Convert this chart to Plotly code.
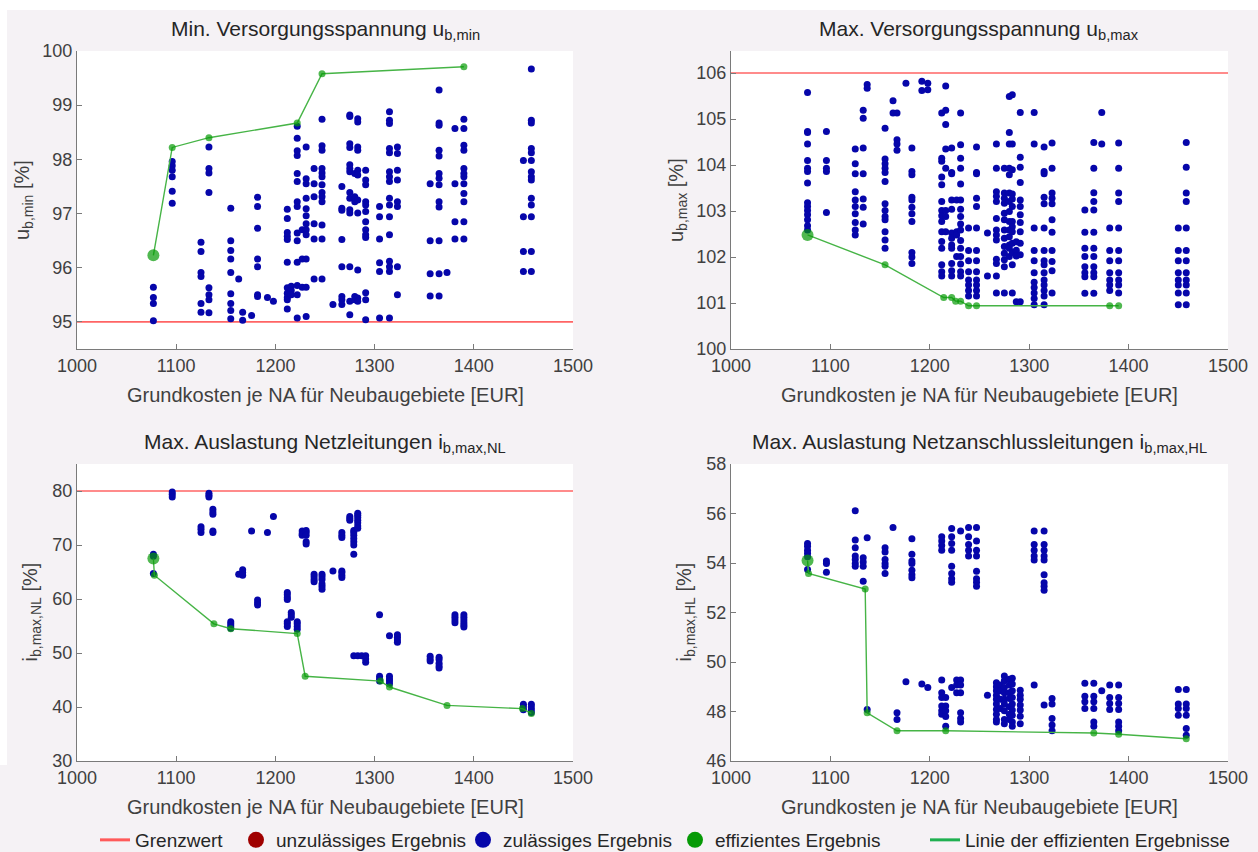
import plotly.graph_objects as go

W, H = 1258, 852
FONT = "Liberation Sans, Arial, sans-serif"

# ---------------- data ----------------
x_ticks = [1000, 1100, 1200, 1300, 1400, 1500]

# Panel 1: Min. Versorgungsspannung u_b,min
umin_x = [1077, 1096, 1125, 1133, 1155, 1163, 1167, 1176, 1182, 1192, 1198, 1212, 1216, 1222, 1227,
          1231, 1239, 1247, 1258, 1267, 1275, 1280, 1283, 1291, 1305, 1315, 1323, 1356, 1365, 1373,
          1381, 1390, 1450, 1458]
umin_y = [
    [95.64, 95.45, 95.34, 95.02],
    [97.96, 97.88, 97.80, 97.68, 97.41, 97.19],
    [96.47, 96.30, 95.91, 95.84, 95.34, 95.18],
    [98.23, 97.83, 97.75, 97.39, 95.63, 95.50, 95.41, 95.17],
    [97.10, 96.50, 96.32, 96.16, 95.91, 95.52, 95.34, 95.21, 95.06],
    [95.79],
    [95.18, 95.03],
    [95.12],
    [97.30, 97.13, 96.73, 96.16, 96.02, 95.50, 95.47],
    [95.45],
    [95.38],
    [97.08, 96.91, 96.65, 96.58, 96.52, 96.10, 95.63, 95.53, 95.45, 95.41, 95.24],
    [95.66, 95.58, 95.50],
    [98.61, 98.39, 98.16, 98.07, 97.74, 97.59, 97.22, 97.13, 96.64, 96.50, 96.10, 95.67, 95.50, 95.07],
    [96.70, 96.16, 95.64],
    [98.23, 97.64, 97.55, 97.28, 97.09, 96.96, 96.81, 96.70, 96.61, 96.16, 95.64, 95.10],
    [97.83, 97.55, 97.31, 96.81, 96.53, 95.79],
    [98.74, 98.25, 98.17, 97.83, 97.75, 97.68, 97.53, 97.39, 97.31, 97.22, 96.79, 96.53, 95.79],
    [95.32],
    [97.50, 97.10, 97.06, 96.52, 96.02, 95.47, 95.41, 95.32],
    [98.82, 98.79, 98.29, 98.22, 97.90, 97.83, 97.77, 97.39, 97.28, 97.07, 97.01, 96.02, 95.38, 95.13],
    [97.74, 97.31, 97.22, 95.47, 95.41],
    [98.75, 98.69, 98.23, 98.17, 97.80, 97.71, 97.25, 97.01, 95.96, 95.44, 95.38],
    [97.80, 97.62, 97.53, 97.22, 97.16, 97.04, 96.85, 96.70, 96.61, 96.56, 95.54, 95.41, 95.04],
    [97.13, 96.94, 96.53, 96.09, 95.93, 95.07],
    [98.88, 98.72, 98.66, 98.20, 98.12, 97.77, 97.68, 97.59, 97.28, 97.16, 96.94, 96.61, 96.12, 96.02, 95.93, 95.07],
    [98.23, 98.11, 97.80, 97.62, 97.22, 97.13, 96.02, 95.50],
    [97.55, 96.50, 95.89, 95.48],
    [99.28, 98.67, 98.63, 98.17, 98.06, 97.74, 97.65, 97.53, 97.22, 97.12, 96.50, 95.89, 95.48],
    [95.91],
    [98.57, 97.55, 96.85, 96.53],
    [98.74, 98.57, 98.26, 98.17, 97.83, 97.74, 97.68, 97.55, 97.37, 97.22, 96.85, 96.53],
    [97.98, 96.94, 96.30, 95.93],
    [99.67, 98.72, 98.67, 98.20, 98.12, 97.98, 97.77, 97.68, 97.62, 97.28, 97.16, 96.94, 96.30, 95.93],
]
umin_eff_x = [1077, 1096, 1133, 1222, 1247, 1390]
umin_eff_y = [96.23, 98.22, 98.40, 98.67, 99.58, 99.71]
umin_limit = 95
umin_yticks = [95, 96, 97, 98, 99, 100]

# Panel 2: Max. Versorgungsspannung u_b,max
umax_x = [1077, 1096, 1125, 1133, 1137, 1155, 1163, 1167, 1176, 1182, 1192, 1198, 1212, 1216, 1222,
          1227, 1231, 1239, 1247, 1258, 1267, 1275, 1280, 1283, 1287, 1291, 1305, 1315, 1323, 1356,
          1365, 1373, 1381, 1390, 1450, 1458]
umax_y = [
    [105.58, 104.73, 104.71, 104.46, 104.10, 103.93, 103.86, 103.61, 103.18, 103.10, 103.01, 102.92, 102.81, 102.68, 102.59],
    [104.73, 104.10, 103.93, 103.86, 102.97],
    [104.35, 104.03, 103.81, 103.42, 103.24, 103.10, 102.94, 102.75, 102.59, 102.48],
    [105.19, 105.02, 104.37, 103.81, 103.26, 103.08, 102.72],
    [105.75, 105.67],
    [104.80, 104.13, 104.03, 103.93, 103.84, 103.64, 103.16, 103.01, 102.88, 102.81, 102.55, 102.37, 102.19],
    [105.40, 105.13],
    [105.13, 104.55, 104.46, 104.32],
    [105.78],
    [104.37, 103.86, 103.79, 103.30, 103.24, 103.08, 102.94, 102.77, 102.10, 102.00, 101.86],
    [105.82, 105.62],
    [105.78, 105.64],
    [105.13, 104.15, 104.08, 103.74, 103.57, 103.21, 103.01, 102.90, 102.77, 102.55, 102.34, 102.19, 101.83, 101.68, 101.59],
    [105.72, 105.19, 104.88, 104.35, 103.93, 103.01, 102.88, 102.55],
    [104.37, 103.84, 103.81, 103.24, 103.04, 102.52, 102.41, 102.26, 102.19, 101.86, 101.70, 101.59],
    [103.24, 102.55, 102.48, 102.01],
    [105.13, 104.44, 104.15, 103.93, 103.59, 103.24, 103.04, 102.88, 102.72, 102.59, 102.36, 102.19, 102.01, 101.85, 101.68, 101.59],
    [102.63, 102.14, 101.92, 101.68, 101.50, 101.39, 101.27, 101.15],
    [104.39, 103.84, 103.81, 103.28, 103.10, 102.63, 102.14, 101.92, 101.68, 101.50, 101.39, 101.27, 101.15],
    [102.52, 101.59],
    [104.46, 103.93, 103.42, 103.32, 103.21, 102.84, 102.59, 102.48, 102.37, 101.95, 101.86, 101.59, 101.22],
    [103.93, 103.39, 103.28, 103.17, 102.95, 102.81, 102.59, 102.41, 102.23, 102.08, 101.94, 101.79, 101.22],
    [105.49, 104.71, 104.46, 103.93, 103.79, 103.39, 103.21, 102.99, 102.77, 102.59, 102.44, 102.26, 102.19, 102.01],
    [105.53, 104.46, 103.90, 103.37, 103.26, 103.10, 102.77, 102.66, 102.55, 102.30, 102.10, 101.83, 101.22],
    [102.33, 102.15, 102.02, 101.03],
    [105.14, 104.17, 103.95, 103.62, 103.24, 103.10, 102.92, 102.75, 102.55, 102.30, 102.05, 101.03],
    [105.14, 104.46, 102.63, 102.14, 101.92, 101.66, 101.45, 101.34, 101.22, 101.10, 100.96],
    [104.39, 103.86, 103.81, 103.30, 103.16, 102.63, 102.14, 101.92, 101.83, 101.66, 101.50, 101.39, 101.27, 101.15, 100.96],
    [104.48, 103.93, 103.39, 103.28, 103.16, 102.81, 102.54, 102.14, 101.90, 101.70, 101.22],
    [103.02, 102.54, 102.19, 102.01, 101.79, 101.66, 101.57, 101.21],
    [104.49, 103.93, 103.40, 103.21, 103.02, 102.54, 102.19, 102.01, 101.79, 101.66, 101.57, 101.21],
    [105.14, 104.46],
    [102.63, 102.14, 101.92, 101.66, 101.50, 101.39, 101.27],
    [104.48, 103.93, 103.39, 103.21, 102.63, 102.14, 101.92, 101.66, 101.50, 101.39, 101.22],
    [102.63, 102.14, 101.92, 101.66, 101.50, 101.39, 101.22, 100.96],
    [104.49, 103.95, 103.39, 103.21, 102.63, 102.14, 101.92, 101.66, 101.50, 101.39, 101.22, 100.96],
]
umax_eff_x = [1077, 1155, 1214, 1222, 1226, 1231, 1239, 1247, 1381, 1390]
umax_eff_y = [102.48, 101.83, 101.12, 101.12, 101.04, 101.04, 100.94, 100.94, 100.94, 100.94]
umax_limit = 106
umax_yticks = [100, 101, 102, 103, 104, 105, 106]

# Panel 3: Max. Auslastung Netzleitungen i_b,max,NL
inl_x = [1077, 1096, 1125, 1133, 1137, 1155, 1163, 1167, 1176, 1182, 1192, 1198, 1212, 1216, 1222,
         1227, 1231, 1239, 1247, 1258, 1267, 1275, 1279, 1283, 1287, 1291, 1305, 1315, 1323, 1356,
         1365, 1381, 1390, 1450, 1458]
inl_y = [
    [68.3, 67.9, 64.7],
    [79.8, 79.4, 78.9],
    [73.4, 72.9, 72.3],
    [79.6, 79.2, 78.9],
    [76.6, 76.1, 75.7, 72.6, 72.3],
    [55.8, 55.4, 55.0, 54.6],
    [64.6],
    [65.4, 64.9, 64.4],
    [72.6],
    [59.8, 59.3, 58.9],
    [72.3],
    [75.3],
    [61.2, 60.8, 60.3, 59.9, 55.8, 55.4, 54.9],
    [57.5, 57.1, 56.6],
    [55.8, 55.4, 54.9, 54.4],
    [72.6, 72.1, 71.8],
    [72.7, 72.3, 71.8, 70.6, 70.2],
    [64.6, 64.1, 63.6, 63.2],
    [64.6, 64.1, 63.6, 62.8, 62.3, 61.8],
    [65.2],
    [72.3, 71.8, 71.4, 65.2, 64.9, 64.4, 64.0],
    [75.3, 74.9, 74.6],
    [72.7, 72.3, 71.8, 71.2, 70.6, 70.0, 68.3, 49.5],
    [75.9, 75.5, 75.1, 74.6, 74.1, 73.5, 73.1, 49.5],
    [49.5],
    [49.5, 48.9, 48.3],
    [57.1, 45.7, 45.2, 44.8],
    [53.2, 45.7, 45.2, 44.8, 44.3],
    [53.4, 52.9, 52.4, 52.0],
    [49.4, 48.9, 48.5],
    [49.2, 48.8, 48.1, 47.6, 47.2],
    [57.1, 56.6, 56.1, 55.6],
    [57.1, 56.6, 56.1, 55.6, 55.2, 54.8],
    [40.5, 40.0, 39.5],
    [40.5, 40.0, 39.5, 39.0],
]
inl_eff_x = [1077, 1078, 1138, 1155, 1222, 1230, 1306, 1315, 1373, 1449, 1458]
inl_eff_y = [67.5, 64.4, 55.4, 54.5, 53.6, 45.7, 44.8, 43.7, 40.3, 39.7, 38.8]
inl_limit = 80
inl_yticks = [30, 40, 50, 60, 70, 80]

# Panel 4: Max. Auslastung Netzanschlussleitungen i_b,max,HL
ihl_x = [1077, 1096, 1125, 1133, 1137, 1155, 1163, 1167, 1176, 1182, 1192, 1198, 1212, 1216, 1222,
         1227, 1231, 1239, 1247, 1258, 1267, 1271, 1275, 1280, 1283, 1291, 1305, 1315, 1323, 1356,
         1365, 1373, 1381, 1390, 1450, 1458]
ihl_y = [
    [54.79, 54.68, 54.52, 54.39, 54.25, 53.74],
    [54.08, 53.98, 53.63],
    [56.11, 54.93, 54.62, 54.28, 54.14, 53.98, 53.87],
    [54.21, 54.04, 53.87, 53.26],
    [55.02, 48.08],
    [54.62, 54.44, 54.14, 53.98, 53.87, 53.58],
    [55.43],
    [47.95, 47.68],
    [49.20],
    [54.98, 54.35, 54.08, 53.98, 53.71, 53.53, 53.40],
    [49.11],
    [48.97],
    [55.06, 54.89, 54.71, 54.52, 49.27, 48.76, 48.57, 48.22, 48.03, 47.89],
    [48.57, 48.22, 48.03, 47.80, 47.40],
    [55.39, 55.06, 54.79, 54.52, 53.87, 53.58, 53.36, 53.22, 48.97],
    [49.27, 49.07, 48.76],
    [55.29, 49.27, 49.07, 48.76, 47.95, 47.72, 47.58],
    [55.43, 55.06, 54.75, 54.52, 54.28],
    [55.43, 54.89, 54.52, 54.28, 53.67, 53.36, 53.22, 53.06],
    [48.66],
    [49.16, 49.00, 48.84, 48.66, 48.49, 48.30, 48.08, 47.89, 47.68, 47.58],
    [49.07, 48.84, 48.49, 48.12],
    [49.43, 49.24, 48.97, 48.76, 48.49, 48.30, 48.03, 47.68, 47.51],
    [49.30, 49.07, 48.76, 48.53, 48.19, 47.89, 47.68],
    [49.34, 49.11, 48.84, 48.57, 48.30, 48.06, 47.85, 47.58, 47.40],
    [48.86, 48.66, 48.49, 48.26, 48.06, 47.81, 47.51],
    [55.29, 54.75, 54.52, 54.28, 54.12, 49.07],
    [55.29, 54.75, 54.52, 54.28, 54.12, 53.53, 53.20, 53.06, 52.90, 48.26],
    [48.53, 48.30, 47.72, 47.45, 47.22],
    [49.14, 48.62, 48.39, 48.12],
    [49.14, 48.62, 48.39, 48.12, 47.58, 47.40],
    [48.84],
    [49.07, 48.57, 48.32, 48.08],
    [49.07, 48.57, 48.32, 48.08, 47.58, 47.40, 47.22],
    [48.89, 48.30, 48.12, 47.85],
    [48.89, 48.30, 48.12, 47.85, 47.31, 47.04],
]
ihl_eff_x = [1077, 1078, 1135, 1137, 1167, 1216, 1365, 1390, 1458]
ihl_eff_y = [54.10, 53.58, 52.95, 47.95, 47.22, 47.22, 47.13, 47.08, 46.90]
ihl_limit = None
ihl_yticks = [46, 48, 50, 52, 54, 56, 58]

titles = ["Min. Versorgungsspannung u<sub>b,min</sub>",
          "Max. Versorgungsspannung u<sub>b,max</sub>",
          "Max. Auslastung Netzleitungen i<sub>b,max,NL</sub>",
          "Max. Auslastung Netzanschlussleitungen i<sub>b,max,HL</sub>"]
ytitles = ["u<sub>b,min</sub> [%]", "u<sub>b,max</sub> [%]",
           "i<sub>b,max,NL</sub> [%]", "i<sub>b,max,HL</sub> [%]"]
xtitle = "Grundkosten je NA für Neubaugebiete [EUR]"
legend_names = ["Grenzwert", "unzulässiges Ergebnis", "zulässiges Ergebnis",
                "effizientes Ergebnis", "Linie der effizienten Ergebnisse"]

# ---------------- styling / layout ----------------
BLUE = "#0606aa"
GREEN = "#069a06"
GREEN_LINE = "#46b446"
RED = "#ff6464"
DARKRED = "#a00000"
AX = "#7a7a7a"
TXT = "#404040"
BG = "#f5f2f5"


def px_x(p):
    return p / W


def px_y(p):
    return 1 - p / H


panels = [
    dict(cols=umin_x, vals=umin_y, ex=umin_eff_x, ey=umin_eff_y, limit=umin_limit,
         yticks=umin_yticks, yrange=[94.5, 100], xpx=(77, 573), ypx=(51, 349), ytx=23),
    dict(cols=umax_x, vals=umax_y, ex=umax_eff_x, ey=umax_eff_y, limit=umax_limit,
         yticks=umax_yticks, yrange=[100, 106.48], xpx=(731, 1228), ypx=(51, 349), ytx=677),
    dict(cols=inl_x, vals=inl_y, ex=inl_eff_x, ey=inl_eff_y, limit=inl_limit,
         yticks=inl_yticks, yrange=[30, 85], xpx=(77, 573), ypx=(464, 761), ytx=31),
    dict(cols=ihl_x, vals=ihl_y, ex=ihl_eff_x, ey=ihl_eff_y, limit=ihl_limit,
         yticks=ihl_yticks, yrange=[46, 58], xpx=(731, 1228), ypx=(464, 761), ytx=685),
]

fig = go.Figure()
layout = {}
annotations = []

for i, p in enumerate(panels):
    n = "" if i == 0 else str(i + 1)
    xa, ya = "x" + n, "y" + n
    # limit line
    if p["limit"] is not None:
        fig.add_trace(go.Scatter(x=[x_ticks[0], x_ticks[-1]], y=[p["limit"], p["limit"]],
                                 mode="lines", line=dict(color=RED, width=1.6),
                                 xaxis=xa, yaxis=ya, showlegend=False, hoverinfo="skip"))
    # feasible results
    bx, by = [], []
    for c, vs in zip(p["cols"], p["vals"]):
        for v in vs:
            bx.append(c)
            by.append(v)
    fig.add_trace(go.Scatter(x=bx, y=by, mode="markers",
                             marker=dict(color=BLUE, size=7, line=dict(width=0)),
                             xaxis=xa, yaxis=ya, showlegend=False))
    # efficient line + points
    fig.add_trace(go.Scatter(x=p["ex"], y=p["ey"], mode="lines",
                             line=dict(color=GREEN_LINE, width=1.4),
                             xaxis=xa, yaxis=ya, showlegend=False, hoverinfo="skip"))
    sizes = [12] + [7] * (len(p["ex"]) - 1)
    fig.add_trace(go.Scatter(x=p["ex"], y=p["ey"], mode="markers",
                             marker=dict(color=GREEN, size=sizes, line=dict(width=0)),
                             xaxis=xa, yaxis=ya, showlegend=False))

    x0, x1 = p["xpx"]
    y0, y1 = p["ypx"]
    common = dict(showline=True, linecolor=AX, linewidth=1, ticks="inside", ticklen=5,
                  tickcolor=AX, tickwidth=1, showgrid=False, zeroline=False,
                  tickfont=dict(family=FONT, size=18, color=TXT))
    layout["xaxis" + n] = dict(domain=[px_x(x0), px_x(x1)], range=[1000, 1500],
                               tickvals=x_ticks, anchor=ya, **common)
    layout["yaxis" + n] = dict(domain=[px_y(y1), px_y(y0)], range=p["yrange"],
                               tickvals=p["yticks"], anchor=xa, **common)
    cx = (x0 + x1) / 2
    annotations.append(dict(text=titles[i], x=px_x(cx), y=px_y(y0 - 21), xref="paper", yref="paper",
                            xanchor="center", yanchor="middle", showarrow=False,
                            font=dict(family=FONT, size=21, color="#262626")))
    annotations.append(dict(text=xtitle, x=px_x(cx), y=px_y(y1 + 46), xref="paper", yref="paper",
                            xanchor="center", yanchor="middle", showarrow=False,
                            font=dict(family=FONT, size=20, color=TXT)))
    annotations.append(dict(text=ytitles[i], x=px_x(p["ytx"]), y=px_y((y0 + y1) / 2),
                            xref="paper", yref="paper", xanchor="center", yanchor="middle",
                            textangle=-90, showarrow=False,
                            font=dict(family=FONT, size=20, color=TXT)))

# legend-only entries
leg_widths = [96, 182, 167, 205, 270]
fig.add_trace(go.Scatter(x=[None], y=[None], mode="lines", name=legend_names[0],
                         line=dict(color="#ff5a5a", width=3), legendwidth=leg_widths[0]))
fig.add_trace(go.Scatter(x=[None], y=[None], mode="markers", name=legend_names[1],
                         marker=dict(color=DARKRED, size=16), legendwidth=leg_widths[1]))
fig.add_trace(go.Scatter(x=[None], y=[None], mode="markers", name=legend_names[2],
                         marker=dict(color=BLUE, size=16), legendwidth=leg_widths[2]))
fig.add_trace(go.Scatter(x=[None], y=[None], mode="markers", name=legend_names[3],
                         marker=dict(color=GREEN, size=16), legendwidth=leg_widths[3]))
fig.add_trace(go.Scatter(x=[None], y=[None], mode="lines", name=legend_names[4],
                         line=dict(color="#1fb050", width=3), legendwidth=leg_widths[4]))

shapes = [
    dict(type="rect", xref="paper", yref="paper", x0=0, x1=px_x(7), y0=px_y(765), y1=1,
         fillcolor="white", line=dict(width=0), layer="below"),
    dict(type="rect", xref="paper", yref="paper", x0=0, x1=1, y0=px_y(10), y1=1,
         fillcolor="white", line=dict(width=0), layer="below"),
]

fig.update_layout(
    width=W, height=H,
    margin=dict(l=0, r=0, t=0, b=0, pad=0, autoexpand=False),
    paper_bgcolor=BG, plot_bgcolor="white",
    font=dict(family=FONT, color=TXT),
    showlegend=True,
    legend=dict(orientation="h", x=px_x(95), xanchor="left", y=px_y(840), yanchor="middle",
                font=dict(family=FONT, size=19, color="#262626"), bgcolor="rgba(0,0,0,0)",
                itemsizing="trace", traceorder="normal"),
    annotations=annotations,
    shapes=shapes,
    **layout,
)

fig.write_html(
    "out.html",
    post_script="document.documentElement.style.overflow='hidden';"
                "document.body.style.margin='0';document.body.style.overflow='hidden';",
)
